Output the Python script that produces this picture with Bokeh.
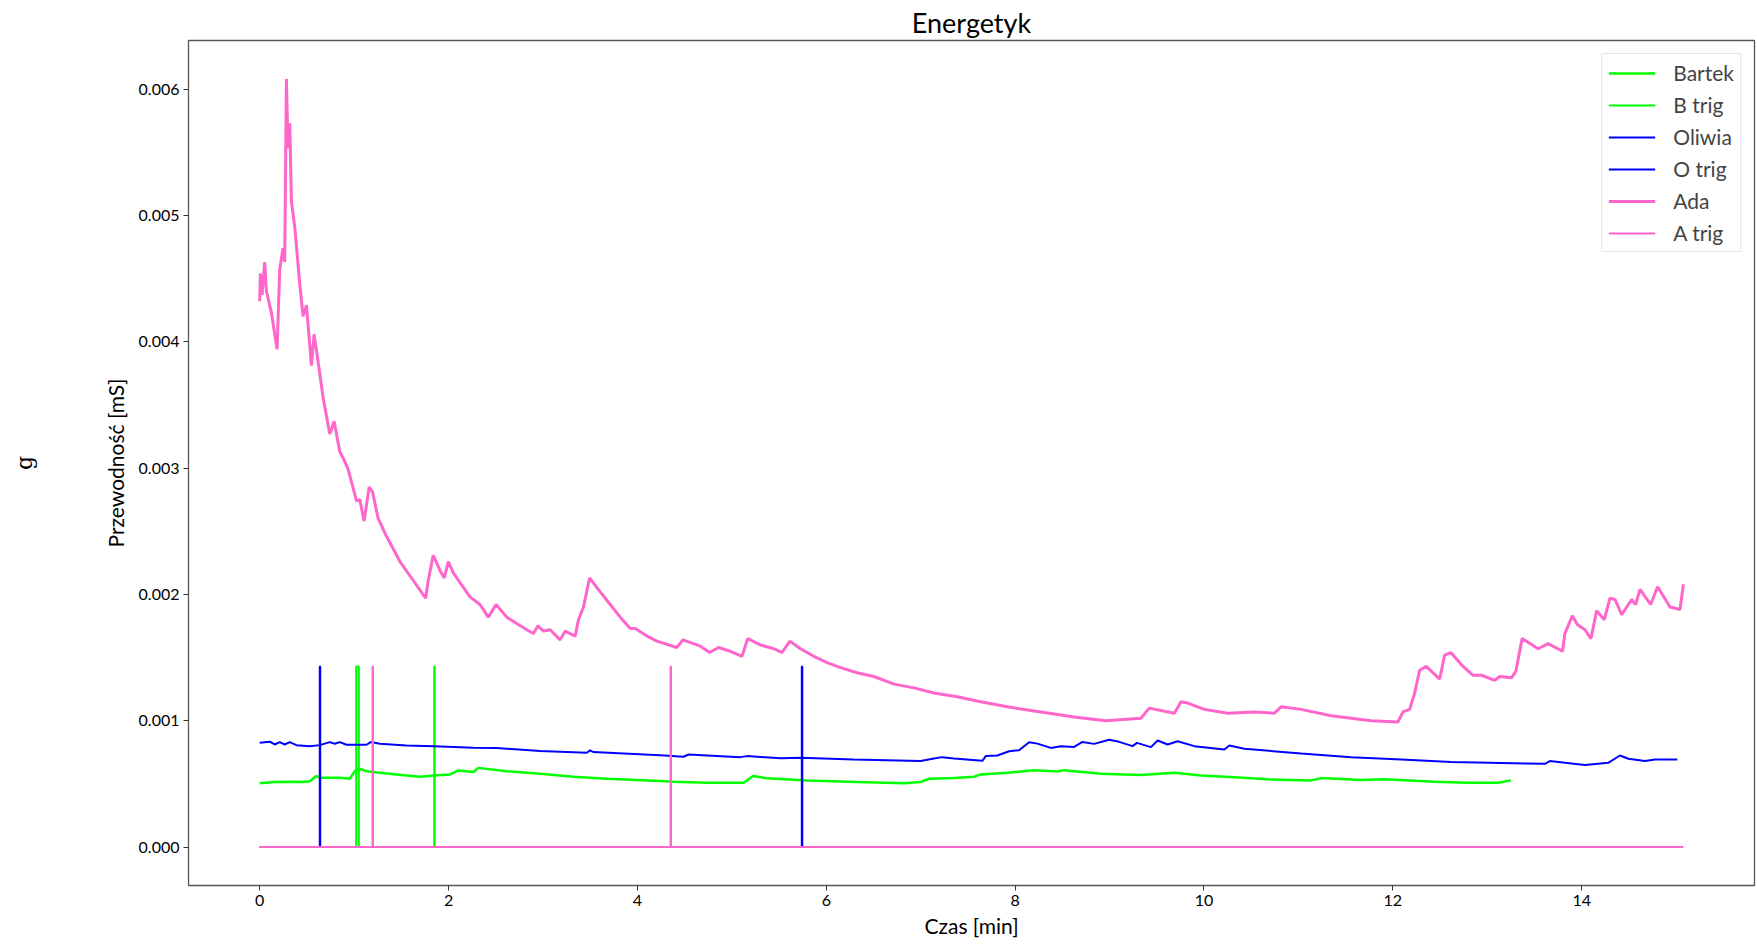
import numpy as np
from bokeh.plotting import figure
from bokeh.models import FixedTicker, PrintfTickFormatter, Range1d, LinearAxis
from bokeh.embed import file_html
from bokeh.resources import INLINE

# --- recorded conductance (values in µS, time in minutes) ---
ada_t = [0.000, 0.007, 0.025, 0.053, 0.071, 0.124, 0.184, 0.212, 0.247, 0.265,
         0.283, 0.300, 0.318, 0.336, 0.371, 0.424, 0.459, 0.495, 0.548, 0.576,
         0.619, 0.671, 0.742, 0.788, 0.848, 0.883, 0.937, 1.025, 1.060, 1.106,
         1.159, 1.195, 1.255, 1.343, 1.485, 1.626, 1.757, 1.785, 1.838, 1.909,
         1.955, 1.997, 2.050, 2.227, 2.333, 2.421, 2.503, 2.616, 2.722, 2.828,
         2.899, 2.945, 3.005, 3.076, 3.182, 3.235, 3.341, 3.376, 3.429, 3.493,
         3.606, 3.712, 3.818, 3.924, 3.977, 4.101, 4.206, 4.418, 4.482, 4.666,
         4.765, 4.860, 4.984, 5.108, 5.168, 5.302, 5.444, 5.532, 5.614, 5.727,
         5.868, 6.010, 6.151, 6.327, 6.504, 6.716, 6.928, 7.140, 7.388, 7.635,
         7.918, 8.272, 8.625, 8.961, 9.332, 9.420, 9.686, 9.757, 9.827, 10.004,
         10.252, 10.534, 10.746, 10.817, 11.029, 11.347, 11.770, 12.054, 12.107, 12.178,
         12.231, 12.284, 12.354, 12.496, 12.549, 12.613, 12.744, 12.850, 12.938, 13.079,
         13.132, 13.256, 13.302, 13.369, 13.539, 13.645, 13.797, 13.822, 13.900, 13.956,
         14.034, 14.098, 14.158, 14.239, 14.299, 14.352, 14.423, 14.529, 14.571, 14.617,
         14.730, 14.804, 14.935, 15.041, 15.077]
ada_us = [4.32, 4.54, 4.37, 4.63, 4.40, 4.23, 3.94, 4.57, 4.74, 4.63,
          6.08, 5.53, 5.73, 5.11, 4.91, 4.46, 4.20, 4.29, 3.81, 4.06,
          3.84, 3.56, 3.27, 3.37, 3.13, 3.08, 2.99, 2.74, 2.75, 2.58,
          2.85, 2.81, 2.60, 2.46, 2.26, 2.11, 1.97, 2.11, 2.31, 2.19,
          2.13, 2.26, 2.17, 1.98, 1.92, 1.82, 1.92, 1.82, 1.77, 1.72,
          1.69, 1.75, 1.71, 1.72, 1.64, 1.71, 1.67, 1.80, 1.90, 2.13,
          2.02, 1.92, 1.82, 1.73, 1.73, 1.67, 1.63, 1.58, 1.64, 1.59,
          1.54, 1.58, 1.55, 1.51, 1.65, 1.60, 1.57, 1.54, 1.63, 1.57,
          1.51, 1.46, 1.42, 1.38, 1.35, 1.29, 1.26, 1.22, 1.19, 1.15,
          1.11, 1.07, 1.03, 1.00, 1.02, 1.10, 1.06, 1.15, 1.14, 1.09,
          1.06, 1.07, 1.06, 1.11, 1.09, 1.04, 1.00, 0.99, 1.07, 1.09,
          1.22, 1.40, 1.43, 1.33, 1.52, 1.54, 1.43, 1.36, 1.36, 1.32,
          1.35, 1.34, 1.39, 1.65, 1.57, 1.61, 1.55, 1.69, 1.83, 1.76,
          1.72, 1.65, 1.87, 1.80, 1.97, 1.96, 1.84, 1.96, 1.92, 2.04,
          1.92, 2.06, 1.90, 1.88, 2.08]

oliwia_t = [0.000, 0.106, 0.159, 0.212, 0.265, 0.318, 0.389, 0.530, 0.636, 0.742,
            0.795, 0.848, 0.919, 1.025, 1.131, 1.177, 1.273, 1.555, 1.849, 2.263,
            2.510, 2.970, 3.464, 3.500, 3.535, 3.853, 4.242, 4.489, 4.542, 5.090,
            5.160, 5.515, 5.727, 6.290, 6.999, 7.140, 7.229, 7.353, 7.653, 7.689,
            7.812, 7.936, 8.042, 8.148, 8.236, 8.378, 8.484, 8.625, 8.713, 8.837,
            8.996, 9.102, 9.244, 9.290, 9.438, 9.509, 9.615, 9.721, 9.898, 10.216,
            10.269, 10.428, 11.029, 11.560, 12.090, 12.620, 13.150, 13.610, 13.663, 14.034,
            14.281, 14.405, 14.494, 14.671, 14.777, 15.013]
oliwia_us = [0.826, 0.834, 0.812, 0.831, 0.812, 0.831, 0.807, 0.799, 0.807, 0.831,
             0.818, 0.831, 0.810, 0.810, 0.810, 0.831, 0.818, 0.804, 0.799, 0.786,
             0.784, 0.760, 0.747, 0.765, 0.752, 0.741, 0.726, 0.715, 0.733, 0.712,
             0.720, 0.704, 0.707, 0.694, 0.681, 0.702, 0.712, 0.702, 0.683, 0.720,
             0.725, 0.759, 0.767, 0.830, 0.819, 0.785, 0.798, 0.793, 0.832, 0.817,
             0.850, 0.833, 0.799, 0.825, 0.791, 0.844, 0.812, 0.838, 0.799, 0.773,
             0.804, 0.778, 0.741, 0.712, 0.694, 0.673, 0.665, 0.659, 0.681, 0.649,
             0.667, 0.725, 0.699, 0.681, 0.694, 0.694]

bartek_t = [0.000, 0.150, 0.318, 0.460, 0.530, 0.600, 0.650, 0.848, 0.954, 1.007,
            1.043, 1.131, 1.273, 1.555, 1.697, 1.849, 2.015, 2.103, 2.263, 2.315,
            2.616, 2.970, 3.323, 3.676, 4.242, 4.383, 4.737, 5.126, 5.225, 5.373,
            5.798, 6.327, 6.822, 6.999, 7.088, 7.353, 7.565, 7.635, 7.918, 8.200,
            8.448, 8.519, 8.908, 9.332, 9.686, 9.969, 10.322, 10.676, 11.135, 11.241,
            11.666, 11.913, 12.443, 12.797, 13.115, 13.249]
bartek_us = [0.505, 0.515, 0.518, 0.515, 0.521, 0.562, 0.549, 0.549, 0.541, 0.601,
             0.622, 0.601, 0.588, 0.567, 0.557, 0.567, 0.575, 0.607, 0.594, 0.627,
             0.601, 0.580, 0.557, 0.541, 0.523, 0.518, 0.510, 0.510, 0.563, 0.544,
             0.528, 0.515, 0.505, 0.515, 0.541, 0.546, 0.557, 0.575, 0.588, 0.609,
             0.598, 0.609, 0.580, 0.570, 0.588, 0.567, 0.552, 0.536, 0.528, 0.546,
             0.531, 0.536, 0.518, 0.510, 0.510, 0.528]

# --- trigger channels: pulse start/stop times (min) and pulse level (µS scale) ---
TRIG_LEVEL_US = 1.43
b_trig_on = [1.022, 1.848]
b_trig_off = [1.050, 1.853]
o_trig_on = [0.636, 5.741]
o_trig_off = [0.641, 5.746]
a_trig_on = [1.195, 4.351]
a_trig_off = [1.200, 4.356]
b_end, o_end, a_end = 13.249, 15.013, 15.077


def to_ms(values):
    return np.asarray(values) * 1e-3


def pulse_train(on, off, end):
    xs, ys = [0.0], [0.0]
    for a, b in zip(on, off):
        xs += [a, a, b, b]
        ys += [0.0, TRIG_LEVEL_US, TRIG_LEVEL_US, 0.0]
    xs.append(end)
    ys.append(0.0)
    return xs, to_ms(ys)


GREEN = "#00ff00"
BLUE = "#0000ff"
PINK = "#ff66cc"
FONT = "Lato"

p = figure(width=1757, height=944, output_backend="svg", toolbar_location=None,
           x_range=Range1d(-0.754, 15.83), y_range=Range1d(-0.000304, 0.006384),
           min_border_left=188, min_border_right=3, min_border_top=40,
           min_border_bottom=59, title="Energetyk")

p.line(bartek_t, to_ms(bartek_us), color=GREEN, line_width=2.5, legend_label="Bartek")
bx, by = pulse_train(b_trig_on, b_trig_off, b_end)
p.line(bx, by, color=GREEN, line_width=2, legend_label="B trig")
p.line(oliwia_t, to_ms(oliwia_us), color=BLUE, line_width=2, legend_label="Oliwia")
ox, oy = pulse_train(o_trig_on, o_trig_off, o_end)
p.line(ox, oy, color=BLUE, line_width=2, legend_label="O trig")
p.line(ada_t, to_ms(ada_us), color=PINK, line_width=3, legend_label="Ada")
ax_, ay = pulse_train(a_trig_on, a_trig_off, a_end)
p.line(ax_, ay, color=PINK, line_width=2, legend_label="A trig")

# title
p.title.text_font = FONT
p.title.text_font_size = "27px"
p.title.text_font_style = "normal"
p.title.align = "center"
p.title.text_color = "#000000"
p.title.standoff = 3

# axes
p.xaxis.ticker = FixedTicker(ticks=[0, 2, 4, 6, 8, 10, 12, 14])
p.yaxis.ticker = FixedTicker(ticks=[0.0, 0.001, 0.002, 0.003, 0.004, 0.005, 0.006])
p.yaxis.formatter = PrintfTickFormatter(format="%.3f")
p.xaxis.axis_label = "Czas [min]"
p.yaxis.axis_label = "Przewodność [mS]"
for ax in (p.xaxis, p.yaxis):
    ax.major_tick_out = 5
    ax.major_tick_in = 0
    ax.minor_tick_out = 0
    ax.minor_tick_in = 0
    ax.axis_line_color = "#555555"
    ax.major_tick_line_color = "#333333"
    ax.major_label_text_font = FONT
    ax.major_label_text_font_size = "16px"
    ax.major_label_text_color = "#000000"
    ax.major_label_standoff = 4
    ax.axis_label_text_font = FONT
    ax.axis_label_text_font_size = "21px"
    ax.axis_label_text_font_style = "normal"
    ax.axis_label_text_color = "#000000"
p.xaxis.axis_label_standoff = 4
p.yaxis.axis_label_standoff = 8

# extra outer axis carrying only the side symbol "g"
g_axis = LinearAxis(ticker=FixedTicker(ticks=[]), axis_label="g",
                    axis_line_color=None, major_tick_out=0, major_tick_in=0,
                    minor_tick_out=0, minor_tick_in=0,
                    axis_label_standoff=63,
                    axis_label_text_font="DejaVu Serif",
                    axis_label_text_font_size="22px",
                    axis_label_text_font_style="normal",
                    axis_label_text_color="#000000")
p.add_layout(g_axis, "left")

p.xgrid.visible = False
p.ygrid.visible = False
p.outline_line_color = "#555555"
p.outline_line_width = 1.3
p.background_fill_color = "white"

# legend
lg = p.legend[0]
lg.location = "top_right"
lg.margin = 13
lg.padding = 6
lg.spacing = 7
lg.label_height = 20
lg.glyph_height = 20
lg.glyph_width = 47
lg.label_standoff = 18
lg.label_text_font = FONT
lg.label_text_font_size = "21px"
lg.border_line_color = "#cccccc"
lg.border_line_width = 1
lg.background_fill_alpha = 0.85

open("out.html", "w").write(file_html(p, INLINE))
